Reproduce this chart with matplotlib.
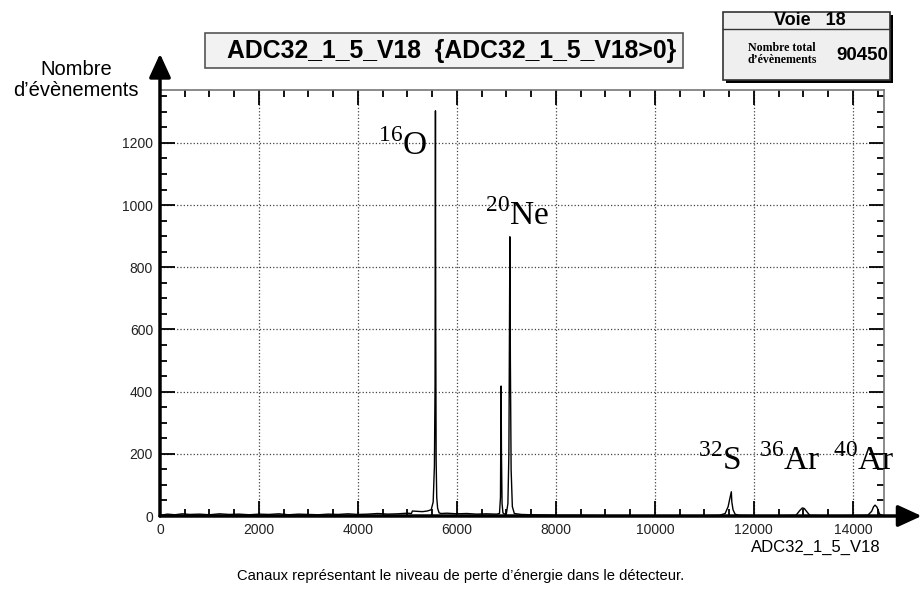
import matplotlib.pyplot as plt
from matplotlib.patches import Rectangle

# spectrum (channel, counts)
channels = [0, 150, 300, 450, 600, 800, 1000, 1200, 1400, 1600, 1800, 2000, 2200, 2400, 2600,
            2800, 3000, 3200, 3400, 3600, 3800, 4000, 4200, 4400, 4600, 4800, 5000, 5080, 5100,
            5200, 5300, 5400, 5480, 5520, 5545, 5558, 5566, 5572, 5580, 5592, 5610, 5640, 5680,
            5800, 6000, 6200, 6400, 6600, 6800, 6860, 6880, 6893, 6900, 6912, 6930, 6960, 7000,
            7030, 7050, 7062, 7070, 7080, 7095, 7120, 7160, 7300, 7500, 7800, 8100, 8500, 9000,
            9500, 10000, 10500, 11000, 11300, 11420, 11480, 11520, 11545, 11555, 11580, 11620,
            11700, 12000, 12500, 12850, 12930, 12980, 13020, 13070, 13130, 13400, 13800, 14300,
            14380, 14420, 14450, 14490, 14540, 14600]
counts = [2, 6, 4, 7, 5, 6, 4, 7, 5, 6, 4, 6, 5, 7, 4,
          6, 5, 4, 6, 5, 7, 5, 6, 8, 6, 7, 9, 8, 16,
          15, 14, 16, 20, 45, 160, 420, 1303, 600, 180, 60, 25, 10, 8,
          9, 7, 8, 6, 7, 6, 8, 60, 418, 200, 40, 10, 6, 8,
          40, 200, 600, 898, 500, 150, 30, 8, 5, 4, 3, 2, 2, 1,
          1, 1, 1, 1, 2, 8, 30, 60, 78, 45, 20, 6,
          2, 1, 1, 2, 18, 26, 24, 14, 2, 1, 1, 2,
          15, 30, 35, 28, 6, 2]

xticks = [0, 2000, 4000, 6000, 8000, 10000, 12000, 14000]
yticks = [0, 200, 400, 600, 800, 1000, 1200]

# (superscript, element, x left, baseline y)
peak_labels = [("16", "O", 4400, 1160), ("20", "Ne", 6566, 936), ("32", "S", 10880, 148),
               ("36", "Ar", 12100, 148), ("40", "Ar", 13590, 148)]

title = "ADC32_1_5_V18  {ADC32_1_5_V18>0}"
n_total = 90450

plt.rcParams['mathtext.fontset'] = 'custom'
plt.rcParams['mathtext.rm'] = 'Liberation Serif'
plt.rcParams['font.family'] = 'Liberation Sans'

fig = plt.figure(figsize=(9.23, 5.90), dpi=100)
ax = fig.add_axes([160 / 923, 1 - 516 / 590, 724 / 923, 426 / 590])

ax.plot(channels, counts, color='black', lw=1.0)
ax.set_xlim(0, 14630)
ax.set_ylim(0, 1370)

ax.set_xticks(xticks)
ax.set_xticks(range(0, 14630, 500), minor=True)
ax.set_yticks(yticks)
ax.set_yticks(range(0, 1370, 50), minor=True)
ax.tick_params(which='both', direction='in', top=True, right=True, width=1.3,
               labelsize=10, labelcolor='#222222', pad=5)
ax.tick_params(which='major', length=11)
ax.tick_params(which='minor', length=5)
ax.grid(True, which='major', linestyle=':', color='#444444', lw=0.9)

for side in ['top', 'right']:
    ax.spines[side].set_color('#777777')
    ax.spines[side].set_linewidth(1.2)
for side in ['left', 'bottom']:
    ax.spines[side].set_visible(False)

arrow = dict(arrowstyle='-|>,head_length=0.72,head_width=0.33', lw=2.5, color='black',
             mutation_scale=20, shrinkA=0, shrinkB=0)
ax.annotate('', xy=(0, 1.085), xytext=(0, 0), xycoords='axes fraction', arrowprops=arrow,
            annotation_clip=False)
ax.annotate('', xy=(1.052, 0), xytext=(0, 0), xycoords='axes fraction', arrowprops=arrow,
            annotation_clip=False)

for sup, elem, x, y in peak_labels:
    ax.text(x, y, r'$^{%s}$%s' % (sup, elem), family='Liberation Serif', fontsize=24,
            ha='left', va='baseline', clip_on=False)

fig.text(76 / 923, 1 - 80 / 590, "Nombre\nd\u2019\u00e9v\u00e8nements", ha='center', va='center',
         fontsize=14.5, linespacing=1.15)
fig.text(816 / 923, 1 - 547 / 590, "ADC32_1_5_V18", ha='center', va='center', fontsize=12)
fig.text(461 / 923, 1 - 576 / 590,
         "Canaux repr\u00e9sentant le niveau de perte d\u2019\u00e9nergie dans le d\u00e9tecteur.",
         ha='center', va='center', fontsize=10.6)

# title box
fig.patches.append(Rectangle((205 / 923, 1 - 68 / 590), 478 / 923, 35 / 590,
                             transform=fig.transFigure, facecolor='#f2f2f2',
                             edgecolor='#555555', lw=1.2))
fig.text(452 / 923, 1 - 51 / 590, title, ha='center', va='center', fontsize=17.8,
         fontweight='bold')

# stats box
fig.patches.append(Rectangle((726 / 923, 1 - 83 / 590), 167 / 923, 68 / 590,
                             transform=fig.transFigure, facecolor='black', lw=0))
fig.patches.append(Rectangle((723 / 923, 1 - 80 / 590), 167 / 923, 68 / 590,
                             transform=fig.transFigure, facecolor='#efefef',
                             edgecolor='#333333', lw=1.2))
fig.lines.append(plt.Line2D([723 / 923, 890 / 923], [1 - 29 / 590, 1 - 29 / 590],
                            transform=fig.transFigure, color='#333333', lw=1.0))
fig.text(810 / 923, 1 - 20.5 / 590, "Voie   18", ha='center', va='center', fontsize=13,
         fontweight='bold')
fig.text(782 / 923, 1 - 54 / 590, "Nombre total\nd\u2019\u00e9v\u00e8nements", ha='center',
         va='center', fontsize=8.6, fontweight='bold', family='Liberation Serif',
         linespacing=1.1)
fig.text(862 / 923, 1 - 55 / 590, str(n_total), ha='center', va='center', fontsize=13.5,
         fontweight='bold')

fig.savefig('out.png', dpi=100)
